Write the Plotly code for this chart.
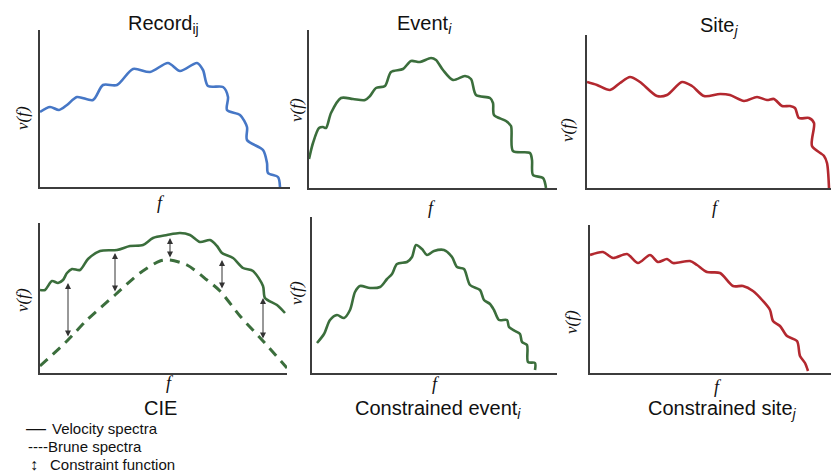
import plotly.graph_objects as go

# ---- spectra (arbitrary units: f along the axis, v(f) above it) ----
record_f = [0, 10, 19, 27, 37, 53, 63, 77, 93, 110, 128, 140, 157, 163, 168, 183, 188,
            187, 200, 207, 207, 223, 227, 228, 238, 240]
record_v = [75, 80, 77, 82, 90, 87, 102, 102, 118, 115, 124, 116, 124, 117, 101, 100, 90,
            77, 72, 60, 47, 37, 24, 14, 10, 0]

event_f = [0, 4, 10, 14, 17, 22, 32, 44, 56, 61, 67, 76, 82, 94, 102, 111, 122, 127, 134,
           144, 156, 162, 167, 181, 184, 185, 197, 202, 204, 221, 223, 224, 234, 237]
event_v = [29, 45, 60, 61, 60, 75, 90, 89, 88, 92, 100, 102, 116, 119, 127, 126, 130, 128,
           118, 108, 112, 109, 93, 90, 85, 73, 67, 62, 37, 35, 28, 13, 10, 0]

site_f = [0, 10, 23, 33, 43, 53, 70, 80, 95, 105, 117, 133, 143, 157, 170, 180, 187, 195,
          203, 208, 212, 222, 227, 225, 237, 240, 242]
site_v = [106, 103, 98, 105, 111, 106, 92, 93, 106, 102, 92, 94, 93, 87, 91, 88, 89, 82,
          82, 80, 70, 70, 65, 42, 32, 25, 0]

cie_f = [0, 5, 12, 18, 23, 27, 32, 40, 48, 60, 77, 90, 103, 113, 127, 140, 150, 160, 170,
         177, 182, 193, 203, 213, 223, 225, 237, 245]
cie_v = [83, 83, 92, 90, 93, 100, 104, 103, 114, 122, 123, 127, 128, 135, 138, 140, 138,
         131, 133, 127, 120, 115, 105, 102, 87, 75, 68, 60]

brune_f = [0, 27, 47, 75, 100, 120, 130, 147, 167, 180, 200, 223, 247]
brune_v = [7, 32, 53, 78, 100, 112, 113, 108, 93, 82, 57, 32, 5]

# constraint arrows: frequency, upper and lower ends
arrow_f = [28, 75, 130, 182, 223]
arrow_top = [90, 120, 135, 113, 75]
arrow_bot = [35, 80, 114, 83, 33]

cevent_f = [5, 12, 18, 25, 32, 38, 43, 48, 58, 68, 75, 80, 85, 95, 100, 104, 110, 115,
            122, 132, 140, 145, 152, 158, 168, 172, 178, 182, 187, 195, 197, 203, 208,
            210, 215, 216, 223, 223]
cevent_v = [30, 39, 53, 58, 55, 63, 81, 87, 85, 86, 94, 99, 109, 111, 116, 128, 124, 118,
            122, 123, 116, 106, 104, 88, 83, 73, 69, 63, 53, 53, 46, 42, 39, 31, 28, 11,
            10, 3]

csite_f = [0, 13, 23, 37, 48, 60, 68, 77, 83, 100, 107, 117, 130, 143, 153, 163, 173, 180,
           183, 190, 197, 207, 210, 215, 218]
csite_v = [118, 121, 115, 119, 110, 118, 111, 114, 110, 112, 108, 101, 100, 87, 87, 82,
           72, 63, 52, 47, 37, 32, 17, 10, 2]

BLUE = "#4677c6"
GREEN = "#3b6e3c"
RED = "#b3282f"
AXIS = "#3c3c3c"
W, H = 831, 474
SANS = "Liberation Sans, Arial, sans-serif"
SERIF = "Liberation Serif, Times New Roman, serif"

# panel boxes in pixels: left, right, bottom, top
panels = [
    (40, 290, 187, 30),
    (309, 557, 188, 30),
    (587, 831, 188, 35),
    (40, 287, 373, 223),
    (312, 557, 373, 217),
    (590, 831, 373, 225),
]

fig = go.Figure()
layout = dict(width=W, height=H, margin=dict(l=0, r=0, t=0, b=0),
              paper_bgcolor="white", plot_bgcolor="white", showlegend=False)

for i, (l, r, b, t) in enumerate(panels, start=1):
    sfx = "" if i == 1 else str(i)
    ax = dict(showline=True, linecolor=AXIS, linewidth=2, showgrid=False,
              zeroline=False, showticklabels=False, ticks="", fixedrange=True)
    layout["xaxis" + sfx] = dict(ax, domain=[l / W, r / W], range=[0, r - l],
                                 anchor="y" + sfx)
    layout["yaxis" + sfx] = dict(ax, domain=[1 - b / H, 1 - t / H], range=[0, b - t],
                                 anchor="x" + sfx)

fig.update_layout(**layout)


def curve(f, v, color, n, dash="solid"):
    fig.add_trace(go.Scatter(
        x=f, y=v, mode="lines", xaxis="x" if n == 1 else f"x{n}",
        yaxis="y" if n == 1 else f"y{n}",
        line=dict(color=color, width=2.6 if dash == "solid" else 3,
                  shape="spline", smoothing=0.8, dash=dash),
        hoverinfo="skip"))


curve(record_f, record_v, BLUE, 1)
curve(event_f, event_v, GREEN, 2)
curve(site_f, site_v, RED, 3)
curve(brune_f, brune_v, GREEN, 4, dash="10px,7px")
curve(cie_f, cie_v, GREEN, 4)
curve(cevent_f, cevent_v, GREEN, 5)
curve(csite_f, csite_v, RED, 6)

ann = []
for f, top, bot in zip(arrow_f, arrow_top, arrow_bot):
    ann.append(dict(x=f, y=top, ax=f, ay=bot, xref="x4", yref="y4", axref="x4",
                    ayref="y4", showarrow=True, arrowhead=2, startarrowhead=2,
                    arrowside="end+start", arrowsize=1.2, startarrowsize=1.2,
                    arrowwidth=1, arrowcolor="#333333", text=""))


def label(text, px, py, size=20, font=SANS, angle=0, xanchor="center"):
    ann.append(dict(text=text, x=px / W, y=1 - py / H, xref="paper", yref="paper",
                    showarrow=False, xanchor=xanchor, yanchor="middle",
                    textangle=angle, font=dict(family=font, size=size, color="#111111")))


label("Record<sub>ij</sub>", 163, 24)
label("Event<sub><i>i</i></sub>", 424, 24)
label("Site<sub><i>j</i></sub>", 719, 26)
label("CIE", 160, 408)
label("Constrained event<sub><i>i</i></sub>", 438, 409)
label("Constrained site<sub><i>j</i></sub>", 722, 409)

for px, py in [(22, 118), (296, 110), (567, 130), (22, 300), (296, 293), (571, 322)]:
    label("<i>v(f)</i>", px, py, size=17, font=SERIF, angle=-90)
for px, py in [(161, 203), (432, 208), (716, 208), (170, 383), (436, 384), (718, 387)]:
    label("<i>f</i>", px, py, size=18, font=SERIF)

# key below the CIE panel
label("—", 24, 428, size=20, xanchor="left")
label("Velocity spectra", 50, 428, size=15, xanchor="left")
label("----Brune spectra", 26, 446, size=15, xanchor="left")
label("↕", 28, 464, size=16, xanchor="left")
label("Constraint function", 48, 464, size=15, xanchor="left")

fig.update_layout(annotations=ann)
fig.write_html("out.html")
